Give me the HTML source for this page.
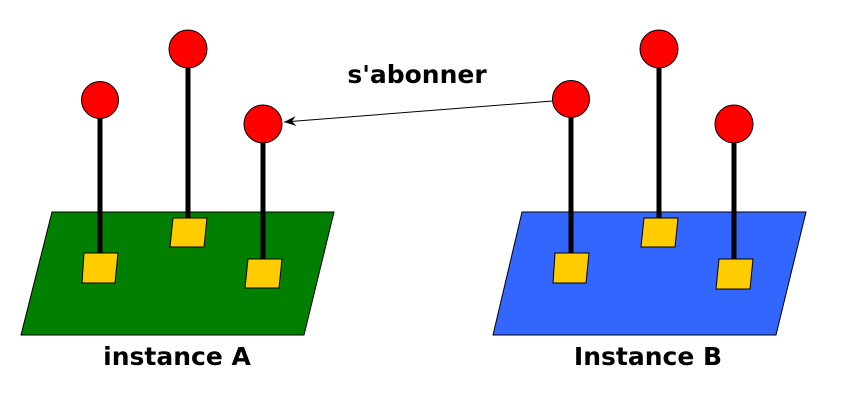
<!DOCTYPE html>
<html><head><style>body{margin:0;background:#fff}svg{display:block}</style></head><body>
<svg width="845" height="407" viewBox="0 0 845 407" xmlns="http://www.w3.org/2000/svg">
<defs><marker id="ah" markerWidth="14" markerHeight="10" refX="13" refY="5" orient="auto" markerUnits="userSpaceOnUse"><path d="M1,0 L13,5 L1,10 L5,5 Z" fill="#000"/></marker></defs>
<g stroke="#000" stroke-width="1">
<polygon points="52,212 334,212 304,335 21,335" fill="#007f00"/>
<polygon points="522,212 806,212 776,335 493,335" fill="#3366ff"/>
</g>
<g stroke="#000" stroke-width="5">
<line x1="100" y1="100" x2="100" y2="255"/><line x1="188" y1="49" x2="188" y2="220"/><line x1="263" y1="124" x2="263" y2="261"/>
<line x1="571" y1="99" x2="571" y2="255"/><line x1="659" y1="49" x2="659" y2="220"/><line x1="734" y1="124" x2="734" y2="261"/>
</g>
<g fill="#ffcc00" stroke="#000" stroke-width="1">
<polygon points="84,253 118,253 115,283 82,283"/><polygon points="173,218 207,218 204,247 170,247"/><polygon points="248,259 282,259 279,288 245,288"/>
<polygon points="555,253 589,253 586,283 553,283"/><polygon points="644,218 678,218 675,247 641,247"/><polygon points="719,259 753,259 750,289 716,289"/>
</g>
<g fill="#ff0000" stroke="#000" stroke-width="1">
<circle cx="100" cy="100" r="18.5"/><circle cx="188" cy="49" r="19"/><circle cx="263" cy="124" r="19"/>
<circle cx="571" cy="99" r="18.5"/><circle cx="659" cy="49" r="19"/><circle cx="734" cy="124" r="19"/>
</g>
<line x1="553" y1="101" x2="284" y2="122" stroke="#000" stroke-width="1" marker-end="url(#ah)"/>
<g font-family="DejaVu Sans, sans-serif" font-weight="bold" font-size="25" text-anchor="middle" fill="#000">
<text x="417" y="83">s'abonner</text>
<text x="177" y="365">instance A</text>
<text x="648" y="365">Instance B</text>
</g>
</svg>
</body></html>
